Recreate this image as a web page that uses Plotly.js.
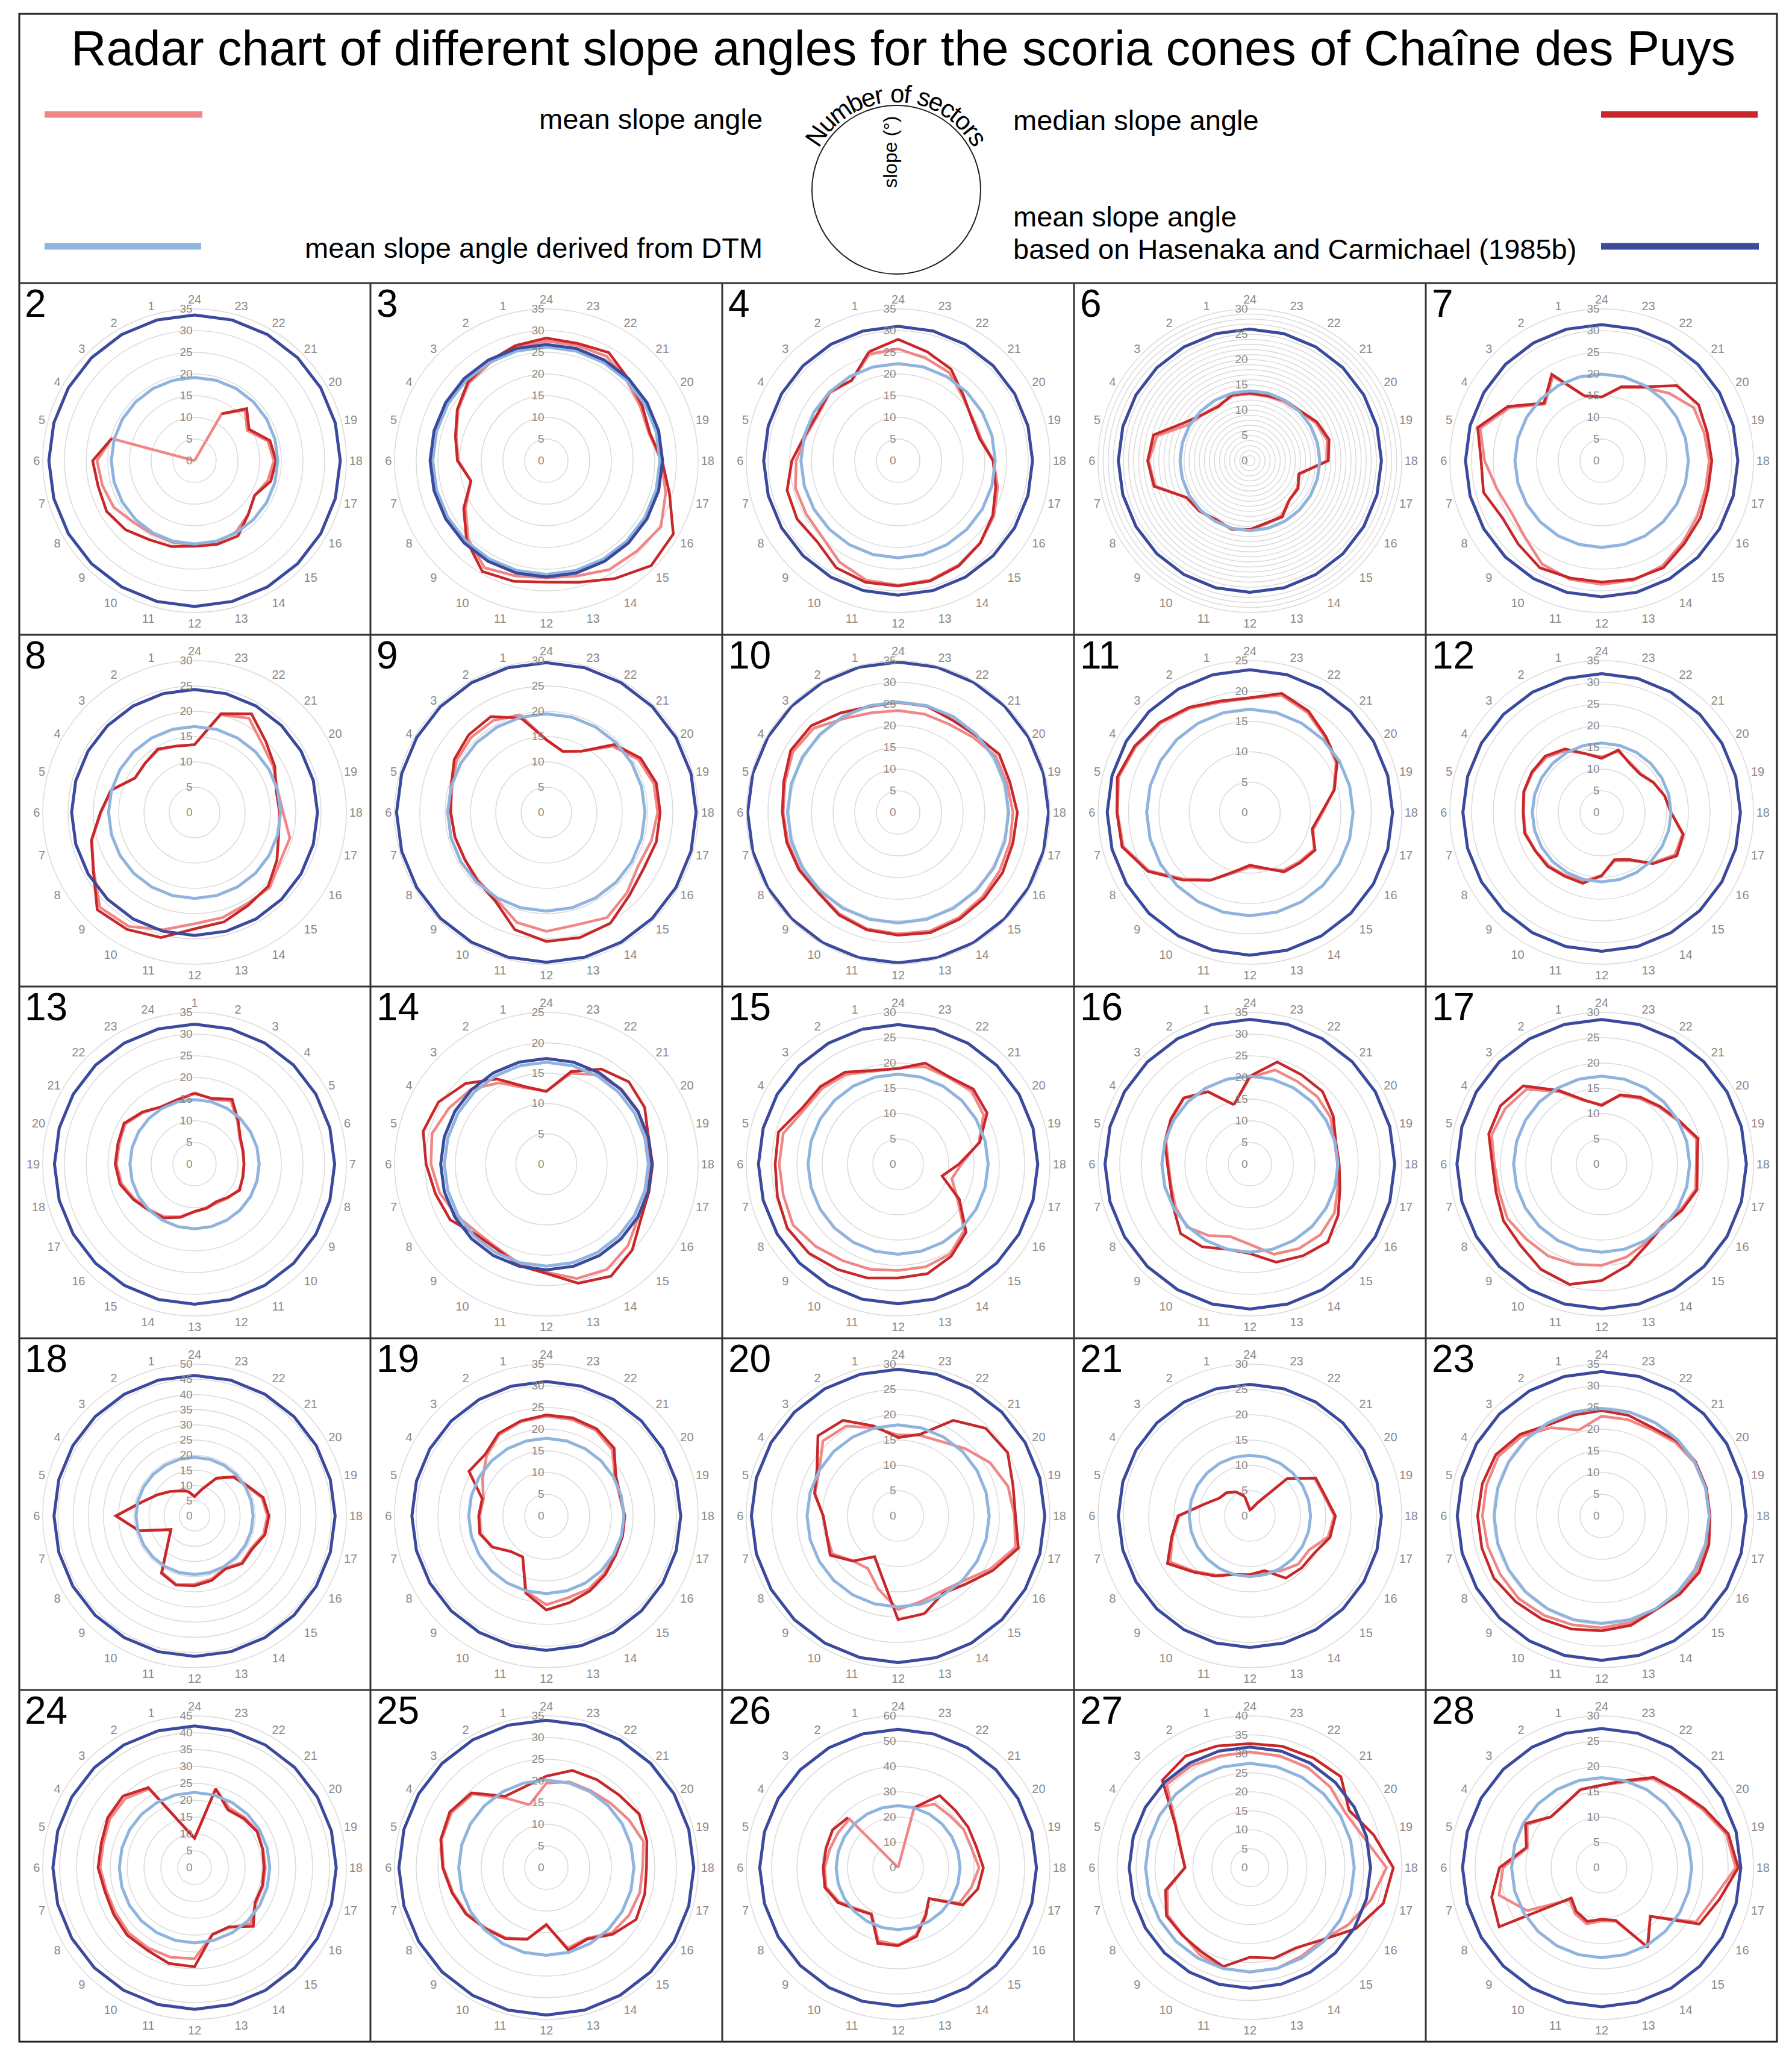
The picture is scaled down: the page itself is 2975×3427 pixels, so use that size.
<!DOCTYPE html>
<html>
<head>
<meta charset="utf-8">
<script src="https://cdn.plot.ly/plotly-3.0.1.min.js"></script>
<style>
  html, body { margin: 0; padding: 0; background: #fff; }
  #chart { width: 2975px; height: 3427px; }
</style>
</head>
<body>
<div id="chart"></div>
<script>
const W = 2975, H = 3427;

const COLORS = {
  mean: '#F08686',
  median: '#C8282A',
  dtm: '#8FB4DE',
  hc: '#3B4A9C',
  grid: '#DADADA',
  tick: '#8A8A8A',
};

/* ---- data ---- */
const sectors = ['1','2','3','4','5','6','7','8','9','10','11','12','13','14','15','16','17','18','19','20','21','22','23','24'];
const cones = ['2','3','4','6','7','8','9','10','11','12','13','14','15','16','17','18','19','20','21','23','24','25','26','27','28'];

const mean2   = [0,0,0,0,19.8,22.5,22,21.5,20,19.5,19.5,19.5,19.5,19,17.5,16,17.5,18.3,17.5,14,16.5,12.5,0,0];
const median2 = [null,null,null,null,19.8,23.5,23,23.4,22.5,21,20.5,19.7,20,20,17.5,16,18.2,18.8,18,14.5,17,12.5,null,null];
const mean3   = [27,26,25.3,23.5,21.5,20.3,18,21.5,25.5,28.5,27.5,27,27.5,29,29.5,30.5,28.5,26.5,24.5,25,26.2,27.8,27.5,27.6];
const median3 = [27.5,26.5,25.6,23.7,21.7,20.5,18,22,26,29.5,28.8,28,29,31.4,34.2,33.8,29.4,26.7,24.7,25.5,26.7,28.8,28,28.3];
const mean4   = [25.5,21.4,22.2,21.3,22,23.5,24.5,24.5,24.8,27,28.5,28.7,28.5,27.8,26.8,25.5,23.8,22,19.8,19.8,21,23.5,24.5,25.8];
const median4 = [26,21.4,22.4,21.5,22.3,24.5,26.5,26.9,26.4,28.5,29,28.9,28.7,28,26.8,25.2,23.3,21.9,19.5,19.6,21.3,24.4,26,28];
const mean6   = [13.3,12.5,13,14.2,19,20,19.4,14.5,14,13.5,14,13.6,12.9,12.5,11,10.8,10.2,15.2,15.8,15,13.8,13.5,13.2,13.2];
const median6 = [13.5,12.4,13,15,19.7,20.2,19.6,14.5,14.1,13.4,14,13.6,12.7,12.8,11,11,10,15.5,16.2,15.3,14,13.8,13.3,13.4];
const mean7   = [15.5,22.5,18.5,24.5,29,27,25,24,25,27.5,28.3,28.5,28.5,28,26.5,25.5,24.8,24.8,24.5,24.5,22,19.5,17.5,14.7];
const median7 = [15.5,23,18.8,25,29.6,27.8,28.2,26.4,27.2,28.5,28,28,28.3,28.5,27,26.3,25.4,25.4,25.2,25.8,24.5,19.7,17.7,14.7];
const mean8   = [13.6,14.3,13.8,13.6,17,18.5,21,23,26.5,26,24,22,21.5,20.8,21,19.5,19.5,17.5,17,18,19,21.5,20,13.4];
const median8 = [13.6,14.5,13.8,13.6,17.1,18.6,21.1,23.1,27.2,26.7,25.6,23,22.4,21.2,20.6,18.8,17.2,16.8,16.7,18.3,19.9,22.5,20.2,13.4];
const mean9   = [20,21,21,20.5,19.3,18.9,18.7,18.6,19,19.8,22.5,23.5,23,24,22.5,21,21.5,22,22,21,18.5,14,12.5,14.3];
const median9 = [19.3,21.9,21.7,21,19.5,18.9,18.7,18.6,19.2,20.2,24,25.5,25.6,25.3,23.2,22.2,22.5,22.5,22.5,21.5,19,14,12.5,14.4];
const mean10   = [23.8,25,27.5,28,27,26.5,26.3,26.2,26,27,27.8,28,28.3,28,27.5,27,26.7,26.5,26,26,24.5,23.5,23.5,23.5];
const median10 = [25.3,26.5,28.3,28.6,27.3,26.7,26.6,26.4,26.1,27.3,28,28.3,28.7,28.4,28,27.8,27.4,27.5,26.7,26.9,25.2,24.7,25.4,25.4];
const mean11   = [18.8,19.8,20.8,21.7,22.4,21.8,21.6,19.2,15.5,12.8,10.3,9,9.6,11,11.5,12.2,10.8,12,14.3,16.4,17.5,19,20,18.8];
const median11 = [19,20,21,21.9,22.6,21.9,21.8,19.4,15.7,12.9,10.1,8.7,9.5,11.3,11.7,12.4,10.6,11.8,14.4,16.6,17.7,19.3,20.3,18.9];
const mean12   = [14,16.5,18,18.4,18.5,18,18.2,17.6,17.3,16.8,16.5,14.5,11.5,12.8,16.5,19.5,19.3,16,15,13.8,12.7,13.2,14.6,12.8];
const median12 = [14,16.9,18.4,18.6,18.6,18.1,18.4,17.7,17.6,17,16.9,14.6,11.3,12.5,16.7,20,19.5,16,15,13.8,12.5,13,14.9,12.5];
const mean13   = [16.5,15.5,16.8,14,12,11.5,11.4,11.6,11.8,11,10.3,10.6,11,12.5,14,14.8,16,17.4,18,18,18.5,16.8,15.3,15.2];
const median13 = [16.3,15.7,17.3,14.2,12.2,11.6,11.4,11.5,12,10.8,10,10.5,10.9,12.7,14.3,15,16.3,17.8,18.3,18.3,18.8,17,15.3,15.4];
const mean14   = [13,15.5,17.5,18.5,19.5,19,18.2,17,16,16,17,17.8,19.5,20,19,17.5,17.2,17.2,17,17.5,17.5,17,15.5,12];
const median14 = [13.2,16.2,18.8,20.5,21,19.8,18.9,18.3,16.4,16.2,17.3,18,20.3,21.3,20,18,17.5,17.5,17.4,18.7,19.2,18.1,15.8,12];
const mean15   = [19,20.5,21.2,21.5,23.5,23.5,23.5,24,23,22,21.5,21,21,20.5,18.5,13.5,11,12.5,16.5,19.5,20.5,19.8,20,19];
const median15 = [19.2,21,21.7,22,24.5,24.3,24.7,25.3,24.9,24,23.3,22.5,22.4,21,19,14,9,12,16.7,20.3,21,20,20.7,18.9];
const mean16   = [14.2,19.3,21.5,20.8,20,18.8,18.8,19.8,20.5,19,17.3,18.5,21.5,22.5,23,22.5,21,20.2,20.2,21.5,22,22,22.5,20];
const median16 = [14.2,19.3,21.6,21,20.3,19,19,20.3,22.6,22,20.3,20.6,23.4,24.4,25.4,23.5,21.5,20.6,20.5,22.2,23.7,23.8,24.4,20.3];
const mean17   = [13,16.5,21,22,22.5,21.2,21,21.5,21,21,20.5,20,19,17.8,17,18,19.2,18.7,19.4,17.3,16,15,14,11.8];
const median17 = [13.1,16.8,21.9,23.1,23.1,21.6,21.6,22.4,22.7,24,24.6,23,20.6,18.2,17.2,18.3,19.5,18.9,19.7,17.5,16.2,15.3,14.2,11.6];
const mean18   = [8.4,9.5,11.4,14,17.9,25.9,18.9,9,12.3,21.5,23.3,22.5,21.5,20,21.8,21.5,23.5,24,23,19.8,18,14.2,9,6.4];
const median18 = [8.4,9.5,11.4,14,17.9,25.9,18.9,9,12.3,21.8,23.6,23,22,20.2,22.2,21.9,24,24.5,23.4,20,18.2,14.4,9,6.4];
const mean19   = [22.5,21.7,19.5,17,15,15.4,15.7,14.3,11.6,10.9,18,20.5,19.5,19.5,18.8,18.2,18,18,17.5,18.2,21.5,22.8,23,23];
const median19 = [22.7,22,20,20.6,15.3,15.6,15.9,14.4,11.6,10.9,18.4,21.7,20.7,20,19.2,18.4,18.2,18.1,17.7,18.5,22.1,23.2,23.4,23.3];
const mean20   = [18,20.5,21,18,17,14.8,14.6,15,12.6,12,15,18.5,17.5,17.2,18.2,21,24,23,22.5,21,18.8,17,16.5,16];
const median20 = [18.4,21.8,22.4,18.5,17.1,14.8,14.6,15.5,12.6,9.3,12.4,20.5,20,17.7,19,21.6,24.6,23.2,23.5,25,24.5,21.8,16.7,15.5];
const mean21   = [4,5.5,6.5,7,9.2,14,15.8,18.2,15.5,13.5,12,11.8,11.5,12.5,13.5,13.5,16,16.7,15.2,14.8,10.5,3,1.5,1.2];
const median21 = [4,5.5,6.5,7,9.2,14.2,16,18.8,15.7,13.7,12,11.6,11.2,14.2,14.5,14.7,16.4,16.9,15.4,15,10.5,3,1.5,1.2];
const mean23   = [20.5,23.5,26,27.5,27.5,27.5,27.2,27,27,26.5,26,25.8,25.5,24.8,25,25.5,25.3,24.8,24.8,24.7,24,23,23,23];
const median23 = [24.1,24.3,26.6,28.2,28.5,28.6,28.6,28.7,28,27.5,27,26.5,26.1,25,25.5,26,25.6,25,25,25,24.5,23.5,24,24.3];
const mean24   = [12.7,27,29,29,28,28,27,27,27.5,27.5,27.5,27,20.5,20.5,23.5,21,21,21,21,21.5,21,20.5,24.2,8.7];
const median24 = [12.7,27.4,30,29.7,28.6,28.6,27.5,27.7,28.3,28.2,29.4,29.4,20.5,20.3,24.6,20.7,20.8,20.6,20.9,21.4,20.6,19.8,24.2,8.7];
const mean25   = [15,18.5,24,25.3,25,23.7,22.3,21.2,19.7,18.7,17,13.3,19.2,18.8,21.3,22,22.3,22.2,23.2,22,21,20.5,20.5,19.5];
const median25 = [19.3,19,24.4,25.7,25.2,23.9,22.5,21.4,19.9,18.9,17.1,13.1,19.7,19,21.7,23.9,23.5,23.1,24,24.7,23.7,23.4,23.2,21.1];
const mean26   = [0,0,27.2,27.5,28,29,29.5,27,23,21,30,30.5,27.5,21.5,17.3,28,30,32,30,30,29,29,24.6,0];
const median26 = [null,null,28,29.9,29.5,29.6,30,27.5,23.4,21.3,31,30.9,28.1,21.9,17.3,29.5,32.6,33.7,32,32,32,32.9,24.6,null];
const mean27   = [30.5,31,31,22.5,18.8,17.1,22.5,25,25,26.5,27.5,27.5,27.5,27,27,30,33,36,31,29,30,30.5,30.5,30.5];
const median27 = [33.2,33.9,32.6,22.7,18.9,17.1,23,25.4,25.2,25.6,27,23.6,24.7,24.4,26.9,32.2,36.4,37.8,33.7,30.2,33.9,33.4,33.1,32.7];
const mean28   = [16,14.5,14.2,17,15.2,19.5,21,17,9,10.5,11.5,10.5,11,18,13.6,21.5,23,26.5,25.5,23,21.3,20.3,17.5,16.3];
const median28 = [16,14.5,14.2,17.4,15.4,20.2,22.5,23.4,8.5,10,11,10.2,10.8,18.2,13.6,22.3,24.1,27,25.9,23.4,21.5,20.6,17.8,16.3];

const meanSeries   = [mean2,mean3,mean4,mean6,mean7,mean8,mean9,mean10,mean11,mean12,mean13,mean14,mean15,mean16,mean17,mean18,mean19,mean20,mean21,mean23,mean24,mean25,mean26,mean27,mean28];
const medianSeries = [median2,median3,median4,median6,median7,median8,median9,median10,median11,median12,median13,median14,median15,median16,median17,median18,median19,median20,median21,median23,median24,median25,median26,median27,median28];

// mean slope angle derived from DTM, and after Hasenaka and Carmichael (1985b)
const dtmSlope = [19.2,26.2,22.4,13.8,20,17,19.5,25.5,17,16,14.9,16.8,17.8,20.3,17.4,19.3,17.9,18,12,24.8,22.3,20.2,24.5,27.5,17.8];
const hcSlope  = [33.6,26.8,31,26,31.4,24.3,29.6,34.7,23.5,32,32.3,17.4,27.6,33.4,28.6,46.3,31,29,26,33.3,42,34,54.7,31.8,27.5];

// radial axis maximum of each radar
const radialMax = [35,35,35,30,35,30,30,35,25,35,35,25,30,35,30,50,35,30,30,35,45,35,60,40,30];

/* ---- geometry ---- */
const colLeft = [31, 615, 1199, 1783, 2367];
const rowTop = [470, 1054, 1638, 2222, 2806];
const CELL = 584, R = 252;

const px = x => x / W;
const py = y => 1 - y / H;

function closeLoop(arr) { return arr.concat([arr[0]]); }

const traces = [];
const layout = {
  width: W, height: H,
  margin: { t: 0, r: 0, b: 0, l: 0 },
  paper_bgcolor: '#fff',
  showlegend: false,
  font: { family: "'Liberation Sans', Arial, sans-serif", color: '#000' },
  shapes: [],
  annotations: [],
};

cones.forEach((cone, i) => {
  const col = i % 5, row = Math.floor(i / 5);
  const cx = colLeft[col] + CELL / 2, cy = rowTop[row] + 295;
  const sub = i === 0 ? 'polar' : 'polar' + (i + 1);

  const theta = closeLoop(sectors);
  const base = { type: 'scatterpolar', mode: 'lines', subplot: sub, theta: theta, hoverinfo: 'skip', connectgaps: false };
  traces.push({ ...base, r: closeLoop(meanSeries[i]), name: 'mean', line: { color: COLORS.mean, width: 4.5 } });
  traces.push({ ...base, r: closeLoop(medianSeries[i]), name: 'median', line: { color: COLORS.median, width: 4.5 } });
  traces.push({ ...base, r: theta.map(() => dtmSlope[i]), name: 'DTM', line: { color: COLORS.dtm, width: 5 } });
  traces.push({ ...base, r: theta.map(() => hcSlope[i]), name: 'HC', line: { color: COLORS.hc, width: 5 } });

  const max = radialMax[i];
  const step = max > 50 ? 10 : 5;
  const radial = {
    range: [0, max], angle: 90, side: 'counterclockwise',
    showline: false, ticks: '', tickangle: 90,
    tickfont: { size: 19, color: COLORS.tick },
    gridcolor: COLORS.grid, gridwidth: 1.5,
  };
  if (cone === '6') {
    const vals = [];
    for (let v = 0; v <= max; v++) vals.push(v);
    radial.tickmode = 'array';
    radial.tickvals = vals;
    radial.ticktext = vals.map(v => v % 5 === 0 ? String(v) : '');
  } else {
    radial.tick0 = 0; radial.dtick = step;
  }

  layout[sub] = {
    domain: { x: [px(cx - R), px(cx + R)], y: [py(cy + R), py(cy - R)] },
    bgcolor: 'rgba(0,0,0,0)',
    radialaxis: radial,
    angularaxis: {
      type: 'category', categoryarray: sectors,
      direction: cone === '13' ? 'clockwise' : 'counterclockwise',
      rotation: cone === '13' ? 90 : 105,
      showgrid: false, ticks: '',
      linecolor: COLORS.grid, linewidth: 1.5,
      tickfont: { size: 20, color: COLORS.tick },
    },
  };

  layout.annotations.push({
    xref: 'paper', yref: 'paper', x: px(colLeft[col] + 8), y: py(rowTop[row] + 34),
    xanchor: 'left', yanchor: 'middle', showarrow: false,
    text: cone, font: { size: 64, color: '#000' },
  });
});

/* ---- frame ---- */
const frame = { type: 'line', xref: 'paper', yref: 'paper', line: { color: '#333', width: 3 } };
layout.shapes.push({ type: 'rect', xref: 'paper', yref: 'paper', x0: px(32), x1: px(2950), y0: py(23), y1: py(3390), line: { color: '#222', width: 3 } });
rowTop.forEach(y => layout.shapes.push({ ...frame, x0: px(32), x1: px(2950), y0: py(y), y1: py(y) }));
colLeft.slice(1).forEach(x => layout.shapes.push({ ...frame, x0: px(x), x1: px(x), y0: py(470), y1: py(3390) }));

/* ---- header legend ---- */
const legendLine = (x0, x1, y, color) => ({ type: 'line', xref: 'paper', yref: 'paper', x0: px(x0), x1: px(x1), y0: py(y), y1: py(y), line: { color: color, width: 11 } });
layout.shapes.push(legendLine(74, 336, 190, COLORS.mean));
layout.shapes.push(legendLine(2658, 2918, 190, COLORS.median));
layout.shapes.push(legendLine(74, 334, 409, COLORS.dtm));
layout.shapes.push(legendLine(2658, 2920, 409, COLORS.hc));
layout.shapes.push({ type: 'circle', xref: 'paper', yref: 'paper', x0: px(1348), x1: px(1628), y0: py(455), y1: py(175), line: { color: '#222', width: 2 } });

const note = (x, y, text, anchor, size, angle) => ({
  xref: 'paper', yref: 'paper', x: px(x), y: py(y), xanchor: anchor, yanchor: 'middle',
  showarrow: false, text: text, textangle: angle || 0, font: { size: size, color: '#000' },
});
layout.annotations.push(note(1499, 80, 'Radar chart of different slope angles for the scoria cones of Chaîne des Puys', 'center', 81));
layout.annotations.push(note(1268, 198, 'mean slope angle', 'right', 47));
layout.annotations.push(note(1680, 200, 'median slope angle', 'left', 47));
layout.annotations.push(note(1268, 412, 'mean slope angle derived from DTM', 'right', 47));
layout.annotations.push(note(1680, 360, 'mean slope angle', 'left', 47));
layout.annotations.push(note(1680, 413, 'based on Hasenaka and Carmichael (1985b)', 'left', 47));
layout.annotations.push(note(1478, 252, 'slope (°)', 'center', 32, -90));

// curved "Number of sectors" along the top of the circle
const arcText = 'Number of sectors';
const charW = { N: .722, u: .556, m: .833, b: .556, e: .556, r: .333, ' ': .278, o: .556, f: .278, s: .5, c: .5, t: .278 };
const arcSize = 42, arcR = 160, arcCx = 1488, arcCy = 315;
const total = arcText.split('').reduce((s, c) => s + charW[c] * arcSize, 0);
let run = 0;
arcText.split('').forEach(c => {
  const w = charW[c] * arcSize;
  const a = (90 + (total / 2 - run - w / 2) / arcR * 180 / Math.PI) * Math.PI / 180;
  run += w;
  if (c === ' ') return;
  layout.annotations.push({
    xref: 'paper', yref: 'paper', x: px(arcCx + arcR * Math.cos(a)), y: py(arcCy - arcR * Math.sin(a)),
    xanchor: 'center', yanchor: 'middle', showarrow: false, text: c,
    textangle: 90 - a * 180 / Math.PI, font: { size: arcSize, color: '#000' },
  });
});

Plotly.newPlot('chart', traces, layout, { displayModeBar: false, staticPlot: true });
</script>
</body>
</html>
